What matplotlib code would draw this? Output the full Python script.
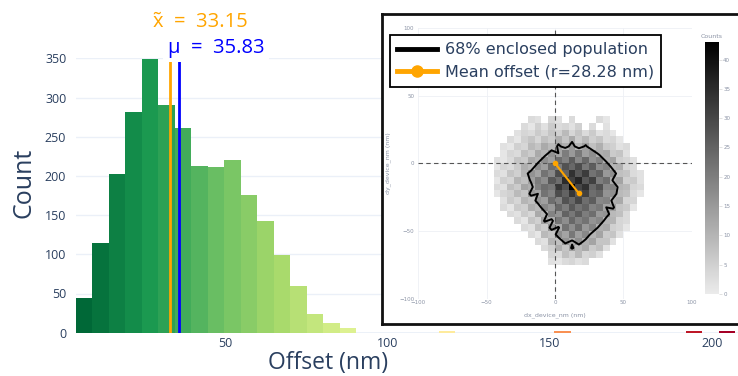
import numpy as np
import matplotlib
matplotlib.use("Agg")
import matplotlib.pyplot as plt
from matplotlib.colors import LinearSegmentedColormap
from matplotlib.lines import Line2D

# ---- main histogram (offset magnitude) ----
bin_start = 4.1
bin_width = 5.08
counts = [44, 114, 202, 282, 349, 291, 261, 213, 211, 220, 176, 143, 99, 60, 24, 13, 6,
          0, 0, 0, 0, 0, 2, 0, 0, 0, 0, 0, 0, 2, 0, 0, 0, 0, 0, 0, 0, 2, 0, 2]
median_val = 33.15
mean_val = 35.83

# ---- 2D histogram of dx / dy (5 nm cells) ----
dx_edges = np.arange(-45, 75, 5)     # 24 edges -> 23 columns
dy_edges = np.arange(35, -80, -5)    # 23 edges -> 22 rows (top to bottom)
grid = np.array([
    [0, 0, 0, 0, 0, 3, 2, 0, 4, 2, 0, 3, 0, 0, 0, 3, 1, 0, 0, 0, 0, 0, 0],
    [0, 0, 0, 0, 3, 1, 5, 2, 6, 3, 4, 2, 5, 0, 3, 0, 2, 0, 0, 0, 0, 0, 0],
    [0, 0, 0, 2, 4, 3, 6, 4, 7, 5, 9, 4, 7, 3, 6, 2, 3, 1, 0, 0, 0, 0, 0],
    [0, 0, 3, 1, 5, 7, 4, 8, 6, 11, 7, 12, 6, 9, 5, 7, 3, 4, 1, 0, 0, 0, 0],
    [0, 2, 1, 5, 4, 9, 7, 12, 9, 14, 11, 15, 10, 14, 8, 11, 6, 5, 2, 3, 0, 0, 0],
    [0, 1, 4, 3, 8, 6, 12, 10, 16, 13, 20, 15, 21, 14, 17, 11, 12, 6, 7, 2, 0, 0, 0],
    [2, 1, 3, 7, 6, 12, 10, 17, 14, 23, 19, 26, 18, 24, 16, 19, 11, 13, 5, 4, 2, 0, 0],
    [1, 4, 3, 6, 11, 9, 17, 14, 23, 20, 28, 24, 29, 21, 26, 17, 19, 10, 11, 4, 3, 0, 0],
    [3, 2, 7, 5, 10, 16, 13, 22, 18, 29, 25, 34, 27, 32, 22, 25, 15, 17, 8, 7, 3, 2, 0],
    [1, 5, 4, 10, 8, 14, 20, 17, 27, 23, 35, 31, 36, 27, 31, 20, 23, 12, 13, 5, 6, 2, 0],
    [3, 2, 8, 6, 13, 11, 19, 23, 21, 33, 28, 43, 30, 34, 24, 28, 18, 19, 10, 9, 4, 3, 0],
    [1, 4, 5, 9, 7, 15, 13, 22, 19, 29, 25, 33, 27, 31, 23, 25, 16, 17, 9, 8, 3, 1, 0],
    [0, 2, 6, 4, 10, 8, 16, 14, 23, 19, 28, 24, 30, 23, 26, 18, 19, 11, 12, 4, 4, 0, 0],
    [0, 3, 1, 6, 5, 11, 9, 18, 15, 24, 20, 27, 22, 25, 19, 21, 13, 14, 7, 6, 1, 0, 0],
    [0, 0, 3, 2, 6, 4, 12, 10, 19, 16, 25, 21, 26, 20, 23, 15, 16, 9, 8, 3, 0, 0, 0],
    [0, 0, 0, 3, 1, 7, 5, 14, 11, 21, 17, 24, 19, 22, 16, 18, 10, 10, 4, 3, 0, 0, 0],
    [0, 0, 0, 0, 3, 2, 8, 6, 16, 12, 22, 17, 23, 15, 19, 11, 12, 5, 4, 1, 0, 0, 0],
    [0, 0, 0, 0, 0, 3, 1, 9, 7, 17, 13, 21, 14, 18, 10, 13, 6, 7, 2, 0, 0, 0, 0],
    [0, 0, 0, 0, 0, 0, 3, 2, 10, 8, 16, 12, 17, 11, 13, 7, 7, 2, 0, 0, 0, 0, 0],
    [0, 0, 0, 0, 0, 0, 0, 3, 5, 11, 7, 14, 9, 12, 6, 8, 2, 0, 0, 0, 0, 0, 0],
    [0, 0, 0, 0, 0, 0, 0, 0, 4, 3, 8, 5, 9, 4, 5, 2, 0, 0, 0, 0, 0, 0, 0],
    [0, 0, 0, 0, 0, 0, 0, 0, 2, 1, 3, 4, 2, 3, 0, 0, 0, 0, 0, 0, 0, 0, 0],
])
mean_dx, mean_dy = 17.5, -22.2
mean_r = 28.28

W, H = 738, 376
txt = '#2a3f5f'
grey_txt = '#8b93a5'

fig = plt.figure(figsize=(W / 100, H / 100), dpi=100)
fig.patch.set_facecolor('white')

# ---------------- main histogram ----------------
ax = fig.add_axes([76 / W, 1 - 332.7 / H, 662 / W, (332.7 - 58.3) / H])
edges = bin_start + bin_width * np.arange(len(counts))
cols = [plt.cm.RdYlGn_r(i / (len(counts) - 1)) for i in range(len(counts))]
ax.bar(edges, counts, width=bin_width, align='edge', color=cols, linewidth=0, zorder=2)
ax.plot([median_val, median_val], [0, 350], color='orange', lw=2, zorder=3)
ax.plot([mean_val, mean_val], [0, 350], color='blue', lw=2, zorder=3)

ax.set_xlim(bin_start, bin_start + 662 / 3.245)
ax.set_ylim(0, 350)
for s in ax.spines.values():
    s.set_visible(False)
ax.set_yticks(range(0, 351, 50))
ax.set_xticks([50, 100, 150, 200])
ax.yaxis.grid(True, color='#ebf0f8', lw=1)
ax.axhline(0, color='#ebf0f8', lw=2, zorder=1)
ax.set_axisbelow(True)
ax.tick_params(axis='both', length=0, labelsize=9, labelcolor=txt)
ax.tick_params(axis='y', pad=7)
ax.tick_params(axis='x', pad=3)
for lab in ax.get_xticklabels() + ax.get_yticklabels():
    lab.set_family(['Open Sans', 'DejaVu Sans'])

fig.text(200 / W, 1 - 22 / H, 'x\u0303  =  33.15', color='orange', fontsize=14.5,
         ha='center', va='center', family=['Open Sans', 'DejaVu Sans'])
fig.text(216 / W, 1 - 48 / H, '\u03bc  =  35.83', color='blue', fontsize=14.5,
         ha='center', va='center', family=['Open Sans', 'DejaVu Sans'],
         bbox=dict(facecolor='white', edgecolor='none', pad=3))
fig.text(24 / W, 1 - 183 / H, 'Count', rotation=90, fontsize=18, color=txt,
         ha='center', va='center', family=['Open Sans', 'DejaVu Sans'])
fig.text(328 / W, 1 - 363 / H, 'Offset (nm)', fontsize=16.5, color=txt,
         ha='center', va='center', family=['Open Sans', 'DejaVu Sans'])

# ---------------- inset (2D offset map) ----------------
frame = fig.add_axes([382 / W, 1 - 324 / H, 0.49, 310 / H])
frame.set_facecolor('white')
frame.set_xticks([])
frame.set_yticks([])
for s in frame.spines.values():
    s.set_linewidth(2)
    s.set_color('#111111')

hax = fig.add_axes([418.4 / W, 1 - 298.7 / H, (691.6 - 418.4) / W, (298.7 - 28) / H])
hax.set_facecolor('none')
cmap = LinearSegmentedColormap.from_list('cnt', ['#ebebeb', '#000000'])
masked = np.ma.masked_equal(grid, 0)
mesh = hax.pcolormesh(dx_edges, dy_edges, masked, cmap=cmap, vmin=0, vmax=43, zorder=2)

# contour enclosing 68 % of the population
xc = (dx_edges[:-1] + dx_edges[1:]) / 2
yc = (dy_edges[:-1] + dy_edges[1:]) / 2
vals = np.sort(grid.ravel())[::-1]
cum = np.cumsum(vals) / vals.sum()
level = vals[np.searchsorted(cum, 0.68)]
hax.contour(xc, yc, grid, levels=[level], colors='black', linewidths=1.4, zorder=4)

hax.axhline(0, color='#555555', ls=(0, (4, 3)), lw=0.8, zorder=3)
hax.axvline(0, color='#555555', ls=(0, (4, 3)), lw=0.8, zorder=3)
hax.plot([0, mean_dx], [0, mean_dy], color='orange', lw=1.5, marker='o', ms=3, zorder=5)

hax.set_xlim(-100, 100)
hax.set_ylim(-100, 100)
for s in hax.spines.values():
    s.set_visible(False)
hax.set_xticks([-100, -50, 0, 50, 100])
hax.set_yticks([-100, -50, 0, 50, 100])
hax.grid(True, color='#eef0f5', lw=0.6)
hax.set_axisbelow(True)
hax.tick_params(axis='both', length=0, labelsize=4, labelcolor=grey_txt, pad=1)
hax.tick_params(axis='y', pad=3)
hax.set_xlabel('dx_device_nm (nm)', fontsize=4.5, color=grey_txt, labelpad=5)
hax.set_ylabel('dy_device_nm (nm)', fontsize=4.5, color=grey_txt, labelpad=6)

cax = fig.add_axes([705 / W, 1 - 294 / H, 14 / W, 252 / H])
cb = fig.colorbar(mesh, cax=cax)
cb.outline.set_visible(False)
cb.set_ticks(range(0, 41, 5))
cb.ax.tick_params(labelsize=4, labelcolor=grey_txt, length=2, width=0.4, color='#cccccc', pad=1)
cax.set_title('Counts', fontsize=4.5, color=grey_txt, pad=3)

handles = [Line2D([], [], color='black', lw=3.5),
           Line2D([], [], color='orange', lw=3.5, marker='o', ms=8)]
labels = ['68% enclosed population', f'Mean offset (r={mean_r:.2f} nm)']
leg = hax.legend(handles, labels, loc='upper left',
                 bbox_to_anchor=(390 / W, 1 - 35 / H), bbox_transform=fig.transFigure,
                 fontsize=11.5, frameon=True, fancybox=False, edgecolor='black',
                 framealpha=1, borderpad=0.45, handlelength=2.5, handletextpad=0.5,
                 labelspacing=0.45, borderaxespad=0, labelcolor=txt)
leg.get_frame().set_linewidth(1.3)
leg.set_zorder(10)

fig.savefig('out.png', dpi=100)
